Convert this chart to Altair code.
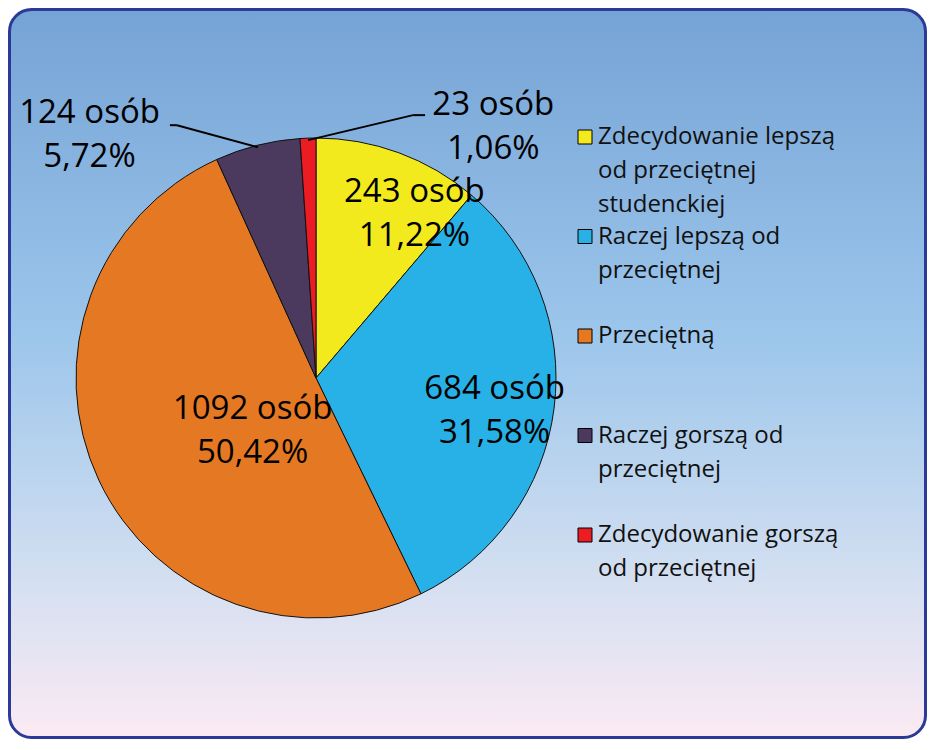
import altair as alt
import pandas as pd

# ---- data ----
categories = [
    "Zdecydowanie lepszą od przeciętnej studenckiej",
    "Raczej lepszą od przeciętnej",
    "Przeciętną",
    "Raczej gorszą od przeciętnej",
    "Zdecydowanie gorszą od przeciętnej",
]
legend_text = [
    "Zdecydowanie lepszą|od przeciętnej|studenckiej",
    "Raczej lepszą od|przeciętnej",
    "Przeciętną",
    "Raczej gorszą od|przeciętnej",
    "Zdecydowanie gorszą|od przeciętnej",
]
counts = [243, 684, 1092, 124, 23]
pct_labels = ["11,22%", "31,58%", "50,42%", "5,72%", "1,06%"]
colors = ["#F2EA1C", "#27B1E6", "#E57823", "#4C3A5E", "#EC1C24"]

df = pd.DataFrame({
    "cat": categories,
    "count": counts,
    "pct": pct_labels,
    "idx": list(range(len(categories))),
    "legend": legend_text,
})
df["label"] = df["count"].astype(str) + " osób|" + df["pct"]

# ---- layout ----
W, H = 919, 731
CX, CY, R = 308, 370, 240
FONT = "Open Sans"

base = alt.Chart(df)


def with_mid(ch):
    return (
        ch.transform_joinaggregate(total="sum(count)")
        .transform_window(cum="sum(count)", sort=[alt.SortField("idx")], frame=[None, 0])
        .transform_calculate(ang="2*PI*(datum.cum - datum.count/2)/datum.total")
    )


bg = alt.Chart(pd.DataFrame({"a": [0]})).mark_rect(
    color=alt.LinearGradient(
        gradient="linear",
        stops=[
            alt.GradientStop(color="#76A3D6", offset=0),
            alt.GradientStop(color="#9CC6EB", offset=0.45),
            alt.GradientStop(color="#D3DFF1", offset=0.78),
            alt.GradientStop(color="#FBEAF3", offset=1),
        ],
        x1=0, x2=0, y1=0, y2=1,
    ),
    stroke="#2B3A96",
    strokeWidth=3,
    cornerRadius=22,
).encode(x=alt.value(1.5), x2=alt.value(W - 1.5), y=alt.value(1.5), y2=alt.value(H - 1.5))

pie = base.mark_arc(outerRadius=R, stroke="#111111", strokeWidth=1).encode(
    theta=alt.Theta("count:Q", stack=True),
    order=alt.Order("idx:Q"),
    color=alt.Color("cat:N", scale=alt.Scale(domain=categories, range=colors), legend=None),
    x=alt.value(CX),
    y=alt.value(CY),
)

label_layout = {0: (175, 38, -22), 1: (180, 0, -12), 2: (80, 9, -3), 3: (260, -163, -13), 4: (260, 186, -13)}
labels = []
for i, (r, dx, dy) in label_layout.items():
    labels.append(
        with_mid(base)
        .transform_filter(f"datum.idx == {i}")
        .transform_calculate(
            lx=f"{CX} + {r}*sin(datum.ang) + {dx}",
            ly=f"{CY} - {r}*cos(datum.ang) + {dy}",
        )
        .mark_text(font=FONT, fontSize=33, lineBreak="|", lineHeight=44,
                   baseline="middle", align="center", color="black")
        .encode(x=alt.X("lx:Q", scale=None, axis=None),
                y=alt.Y("ly:Q", scale=None, axis=None),
                text="label:N")
    )

leader_layout = {3: (-81, -22, -88), 4: (105, -25, 117)}
leaders = []
for i, (ex, ey, endx) in leader_layout.items():
    common = (
        with_mid(base)
        .transform_filter(f"datum.idx == {i}")
        .transform_calculate(
            px=f"{CX} + {R - 2}*sin(datum.ang)",
            py=f"{CY} - {R - 2}*cos(datum.ang)",
        )
        .transform_calculate(qx=f"datum.px + {ex}", qy=f"datum.py + {ey}", ex2=f"datum.px + {endx}")
    )
    leaders.append(
        common.mark_rule(color="black", strokeWidth=2).encode(
            x=alt.X("px:Q", scale=None, axis=None), y=alt.Y("py:Q", scale=None, axis=None),
            x2="qx:Q", y2="qy:Q")
    )
    leaders.append(
        common.mark_rule(color="black", strokeWidth=2).encode(
            x=alt.X("qx:Q", scale=None, axis=None), y=alt.Y("qy:Q", scale=None, axis=None),
            x2="ex2:Q")
    )

ly = alt.Y("cat:N", scale=alt.Scale(type="point", domain=categories, range=[129, 527], padding=0), axis=None)
legend_sq = base.mark_square(size=196, filled=True, stroke="black", strokeWidth=1, opacity=1).encode(
    x=alt.value(577),
    y=ly,
    color=alt.Color("cat:N", scale=alt.Scale(domain=categories, range=colors), legend=None),
)
legend_txt = base.mark_text(font=FONT, fontSize=24, lineBreak="|", lineHeight=34,
                            baseline="line-top", align="left", dy=-17, color="#111111").encode(
    x=alt.value(590),
    y=ly,
    text="legend:N",
)
legend = alt.layer(legend_sq, legend_txt)

chart = (
    alt.layer(bg, pie, *labels, *leaders, legend)
    .resolve_scale(x="independent", y="independent")
    .properties(width=W, height=H, padding=0, autosize="none", background="white")
    .configure_view(stroke=None)
)

chart.save("out.html", embed_options={"renderer": "svg", "actions": False})
